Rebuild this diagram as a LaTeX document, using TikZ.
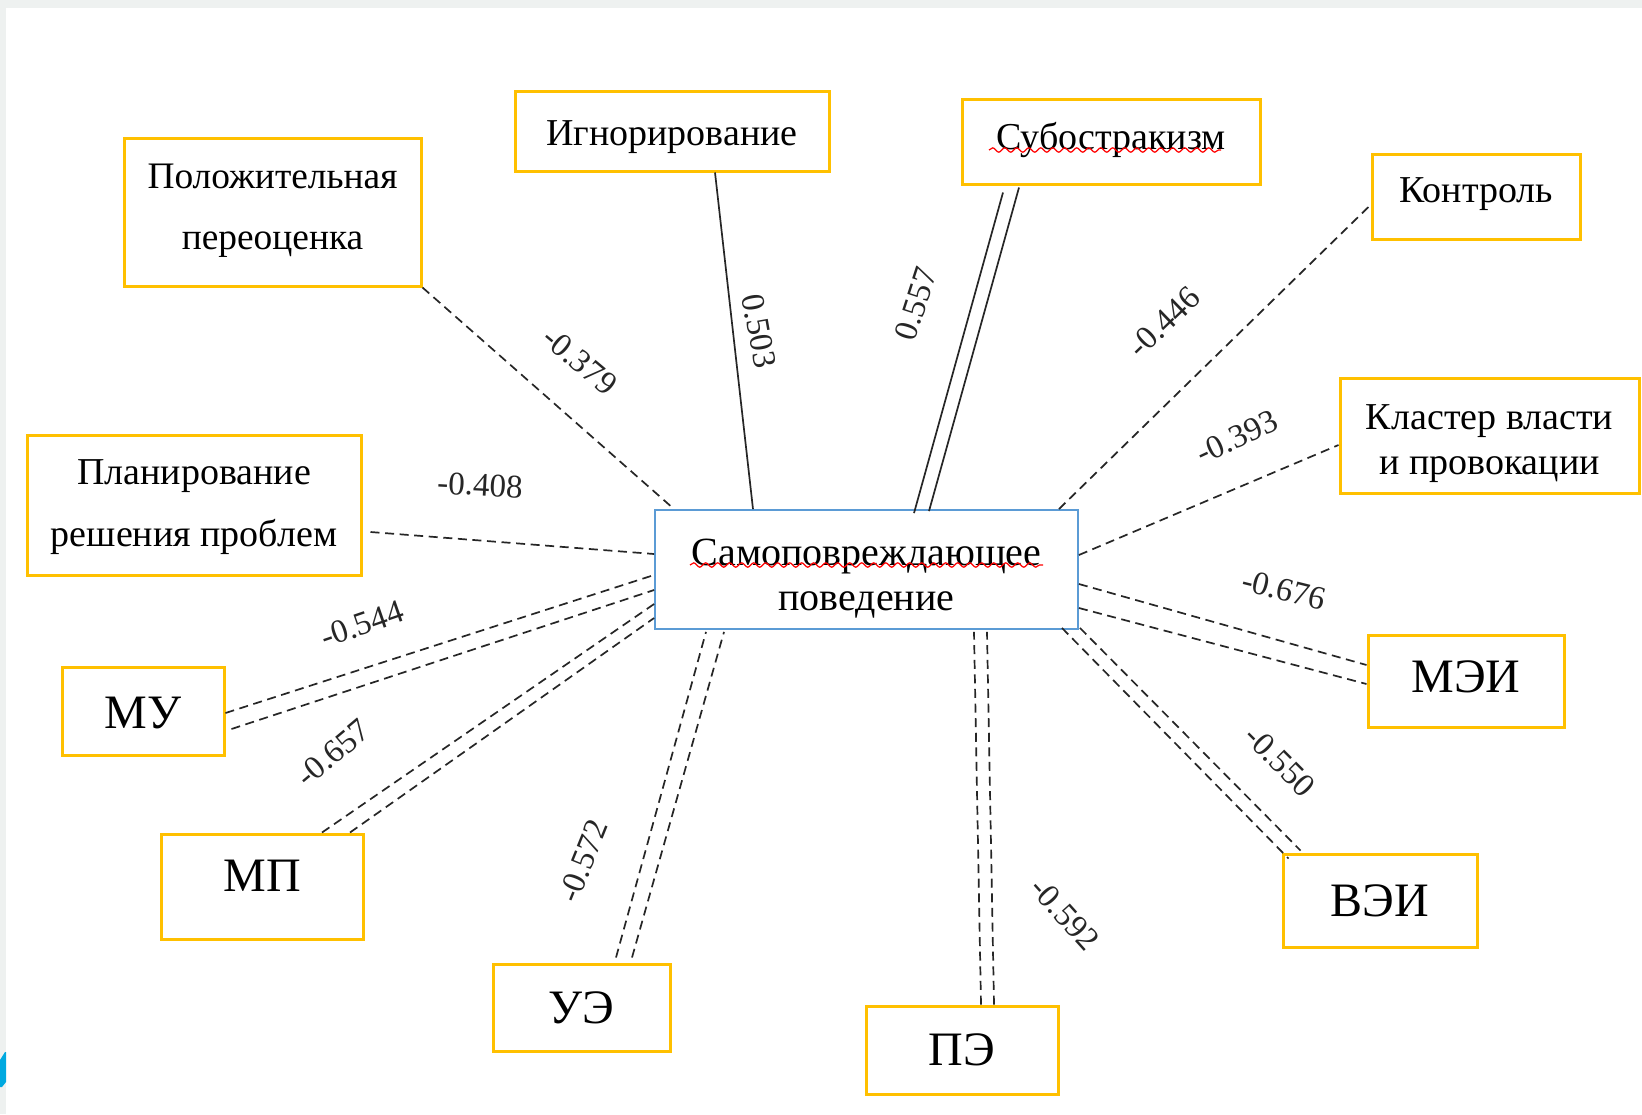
\documentclass[tikz,border=0pt]{standalone}
\usepackage{fontspec}
\setmainfont{Liberation Serif}
\usetikzlibrary{decorations.pathmorphing}
\definecolor{boxor}{HTML}{FFC000}
\definecolor{boxbl}{HTML}{5B9BD5}
\definecolor{edgegr}{HTML}{EEF1F0}
\definecolor{slideblue}{HTML}{00A9E0}
\newcommand\txtdown[2]{\raisebox{-#1}[\height][\depth]{#2}}
\newcommand\twolin[1]{\begin{tabular}{@{}c@{}}#1\end{tabular}}
\begin{document}
\begin{tikzpicture}[x=0.5pt,y=-0.5pt,
  obox/.style={draw=boxor, line width=1.5pt, fill=white, inner sep=0pt, align=center,
    font=\fontsize{19}{30}\selectfont},
  bigbox/.style={obox, font=\fontsize{24}{28}\selectfont},
  cbox/.style={draw=boxbl, line width=0.9pt, fill=white, inner sep=0pt, align=center,
    font=\fontsize{20}{22.5}\selectfont},
  conn/.style={draw=black!85, line width=0.85pt},
  dsh/.style={conn, dash pattern=on 4.5pt off 2.8pt},
  lbl/.style={text=black!85, inner sep=0pt, font=\fontsize{16.5}{19}\selectfont},
  wavy/.style={draw=red, line width=0.6pt, decorate,
    decoration={snake, amplitude=1.1pt, segment length=6pt}}
]
\useasboundingbox (0,0) rectangle (1642,1114);
\fill[white] (0,0) rectangle (1642,1114);
\fill[edgegr] (0,0) rectangle (1642,8);
\fill[edgegr] (0,0) rectangle (6,1114);
\fill[slideblue] (0,1060) -- (5,1052) -- (6,1052) -- (6,1082) -- (2,1087) -- (0,1087) -- cycle;

% boxes
\node[obox, minimum width=148.5pt, minimum height=74pt, font=\fontsize{18.7}{30.5}\selectfont] (pos) at (272.5,212)
  {\txtdown{-2.8pt}{\twolin{Положительная\\переоценка}}};
\node[obox, minimum width=157pt, minimum height=40pt] (ign) at (672,131)
  {\txtdown{3pt}{Игнорирование}};
\node[obox, minimum width=149pt, minimum height=42.5pt] (sub) at (1111,141.5)
  {\txtdown{-1pt}{Субостракизм}};
\node[obox, minimum width=104pt, minimum height=42.5pt] (kon) at (1476,196.5)
  {\txtdown{-1pt}{Контроль}};
\node[obox, minimum width=149.5pt, minimum height=57.5pt, font=\fontsize{19}{22.5}\selectfont] (kla) at (1489.5,435.5)
  {\txtdown{3.5pt}{\twolin{Кластер власти\\и провокации}}};
\node[obox, minimum width=167pt, minimum height=70pt, font=\fontsize{19}{31}\selectfont] (pla) at (194,505)
  {\txtdown{-0.8pt}{\twolin{Планирование\\решения проблем}}};
\node[cbox, minimum width=211.5pt, minimum height=59.5pt] (cen) at (866.5,569.5)
  {\txtdown{4.5pt}{\twolin{Самоповреждающее\\поведение}}};
\node[bigbox, minimum width=81pt, minimum height=44pt] (mu) at (143,711) {\txtdown{1pt}{МУ}};
\node[bigbox, minimum width=101pt, minimum height=52.5pt] (mp) at (262,886.5) {\txtdown{-5.2pt}{МП}};
\node[bigbox, minimum width=88.5pt, minimum height=43.5pt] (ue) at (581.5,1007.5) {УЭ};
\node[bigbox, minimum width=96pt, minimum height=44pt] (pe) at (962,1050) {ПЭ};
\node[bigbox, minimum width=97pt, minimum height=46.5pt] (vei) at (1380,900.5) {ВЭИ};
\node[bigbox, minimum width=98pt, minimum height=46pt] (mei) at (1466,681) {\txtdown{-2pt}{МЭИ}};

% spell-check underlines
\draw[wavy] (690,565) -- (1043,565);
\draw[wavy] (989,150) -- (1221,150);

% single connectors
\draw[dsh] (pos.south east) -- ([xshift=10pt]cen.north west);
\draw[conn] ([xshift=21.5pt]ign.south) -- ([xshift=-56.75pt]cen.north);
\draw[dsh] ([xshift=-10pt]cen.north east) -- ([yshift=-4.25pt]kon.west);
\draw[dsh] ([yshift=7.25pt]cen.east) -- ([yshift=-4.75pt]kla.west);
\draw[dsh] ([xshift=4pt,yshift=-13.5pt]pla.east) -- ([yshift=7.75pt]cen.west);

% double connectors (two strokes each)
\draw[conn] ([xshift=-54pt,yshift=-3.5pt]sub.south) -- ([xshift=23.75pt,yshift=-2pt]cen.north);
\draw[conn] ([xshift=-46pt,yshift=-1pt]sub.south) -- ([xshift=31.25pt,yshift=-1pt]cen.north);

\draw[dsh] ([yshift=-1pt]mu.east) -- ([yshift=-2.75pt]cen.west);
\draw[dsh] ([xshift=3pt,yshift=-9pt]mu.east) -- ([yshift=-10.25pt]cen.west);

\draw[dsh] ([xshift=30pt]mp.north) -- ([yshift=-17.25pt]cen.west);
\draw[dsh] ([xshift=44pt]mp.north) -- ([yshift=-24.25pt]cen.west);

\draw[dsh] ([xshift=17.25pt,yshift=2.5pt]ue.north) -- ([xshift=-80.25pt,yshift=-1pt]cen.south);
\draw[dsh] ([xshift=25.25pt,yshift=2.5pt]ue.north) -- ([xshift=-71.25pt,yshift=-1pt]cen.south);

\draw[dsh] ([xshift=9.5pt]pe.north) -- ([xshift=53.75pt,yshift=-1pt]cen.south);
\draw[dsh] ([xshift=16pt]pe.north) -- ([xshift=60.25pt,yshift=-1pt]cen.south);

\draw[dsh] ([xshift=-8.5pt,yshift=1pt]cen.south east) -- ([xshift=3.5pt,yshift=-3pt]vei.north west);
\draw[dsh] ([xshift=0.5pt,yshift=1pt]cen.south east) -- ([xshift=9.5pt,yshift=1pt]vei.north west);

\draw[dsh] ([yshift=-7.25pt]cen.east) -- ([yshift=8pt]mei.west);
\draw[dsh] ([yshift=-19.25pt]cen.east) -- ([yshift=-1.5pt]mei.west);

% labels
\node[lbl, rotate=-40] (l379) at (580,361) {-0.379};
\node[lbl, rotate=-80] (l503) at (759,331) {0.503};
\node[lbl, rotate=72] (l557) at (916,304) {0.557};
\node[lbl, rotate=44] (l446) at (1164,322) {-0.446};
\node[lbl, rotate=25] (l393) at (1237,437) {-0.393};
\node[lbl, rotate=-3] (l408) at (480,485) {-0.408};
\node[lbl, rotate=19] (l544) at (362,624) {-0.544};
\node[lbl, rotate=40] (l657) at (333,753) {-0.657};
\node[lbl, rotate=68] (l572) at (583,861) {-0.572};
\node[lbl, rotate=-14] (l676) at (1284,590) {-0.676};
\node[lbl, rotate=-45] (l550) at (1280,761) {-0.550};
\node[lbl, rotate=-48] (l592) at (1065,914) {-0.592};
\end{tikzpicture}
\end{document}
